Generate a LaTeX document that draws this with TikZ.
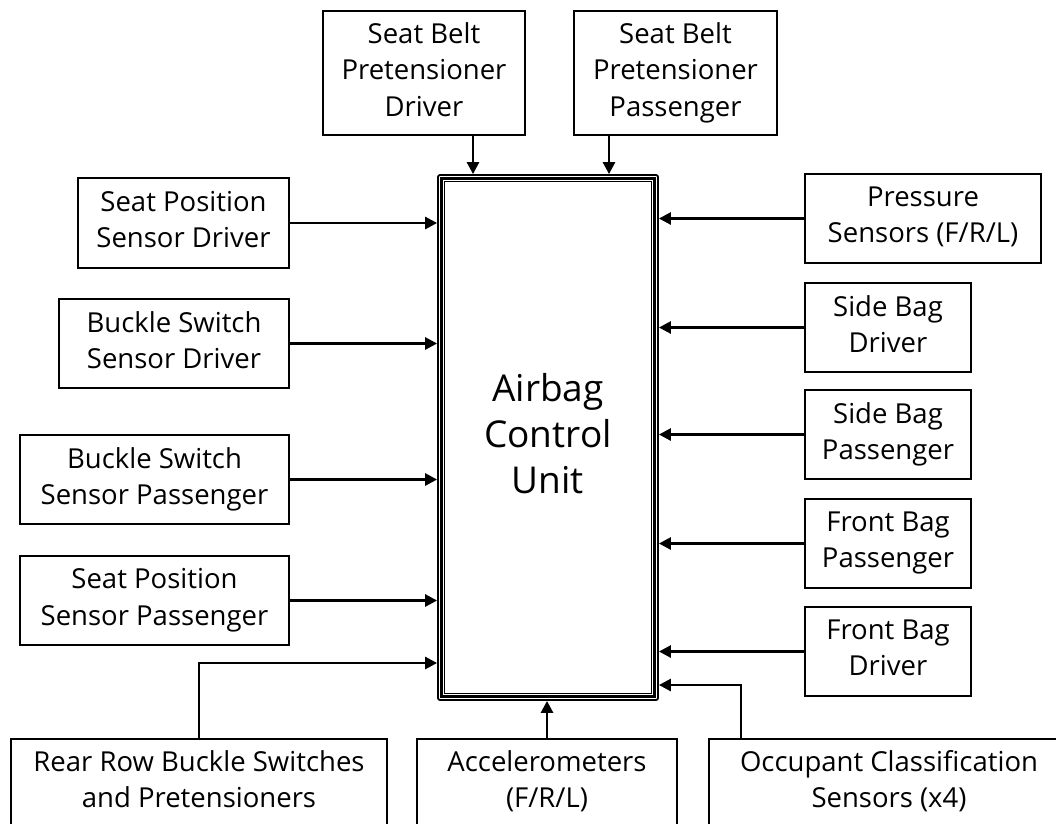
\documentclass[tikz,border=0pt]{standalone}
\usepackage{fontspec}
\setmainfont{Open Sans}
\usetikzlibrary{arrows.meta,calc}
\newcommand\sst{\rule[-7.4pt]{0pt}{39.4pt}}
\newcommand\bst{\rule[-8pt]{0pt}{44pt}}
\tikzset{
  box/.style={draw, line width=2pt, align=center, inner sep=0pt,
    font=\fontsize{27.5}{36.5}\selectfont,
    execute at begin node=\sst, execute at end node=\sst},
  arr/.style={line width=2.7pt, -{Triangle[length=12pt,width=12pt]}},
}
\begin{document}
\begin{tikzpicture}[x=1pt,y=-1pt]
\useasboundingbox (0,0) rectangle (1056,823);
% central unit
\node[draw, line width=1.8pt, rounded corners=2pt, minimum width=220pt, minimum height=525pt,
  align=center, inner sep=0pt, font=\fontsize{37}{46}\selectfont,
  execute at begin node=\bst, execute at end node=\bst] (acu) at (548,437.5) {Airbag\\Control\\Unit};
\draw[line width=2.4pt] ([shift={(4.4,4.4)}]acu.north west) rectangle ([shift={(-4.4,-4.4)}]acu.south east);
\draw[line width=1pt] ([shift={(7.8,7.8)}]acu.north west) rectangle ([shift={(-7.8,-7.8)}]acu.south east);
% top
\node[box, minimum width=202pt, minimum height=124pt] (sbpd) at (424,73) {Seat Belt\\Pretensioner\\Driver};
\node[box, minimum width=203pt, minimum height=124pt] (sbpp) at (675.5,73) {Seat Belt\\Pretensioner\\Passenger};
% left
\node[box, minimum width=211pt, minimum height=90pt] (spsd) at (183.5,223) {Seat Position\\Sensor Driver};
\node[box, minimum width=230pt, minimum height=89pt] (bssd) at (174,343.5) {Buckle Switch\\Sensor Driver};
\node[box, minimum width=269pt, minimum height=89pt] (bssp) at (154.5,479.5) {Buckle Switch\\Sensor Passenger};
\node[box, minimum width=269pt, minimum height=89pt] (spsp) at (154.5,600.5) {Seat Position\\Sensor Passenger};
% right
\node[box, minimum width=236pt, minimum height=89pt] (pres) at (923,218.5) {Pressure\\Sensors (F/R/L)};
\node[box, minimum width=166pt, minimum height=89pt] (sbd) at (888,327.5) {Side Bag\\Driver};
\node[box, minimum width=166pt, minimum height=89pt] (sbp) at (888,434.5) {Side Bag\\Passenger};
\node[box, minimum width=166pt, minimum height=89pt] (fbp) at (888,543.5) {Front Bag\\Passenger};
\node[box, minimum width=166pt, minimum height=89pt] (fbd) at (888,651.5) {Front Bag\\Driver};
% bottom
\node[box, minimum width=376pt, minimum height=87pt] (rear) at (199,782.5) {Rear Row Buckle Switches\\and Pretensioners};
\node[box, minimum width=260pt, minimum height=87pt] (acc) at (547,782.5) {Accelerometers\\(F/R/L)};
\node[box, minimum width=360pt, minimum height=87pt] (occ) at (889,782.5) {Occupant Classification\\Sensors (x4)};
% connectors
\path ([xshift=49pt]sbpd.south) coordinate (t1);
\path ([xshift=-66.5pt]sbpp.south) coordinate (t2);
\draw[arr] (t1) -- (t1 |- acu.north);
\draw[arr] (t2) -- (t2 |- acu.north);
\draw[arr] (spsd.east) -- (spsd.east -| acu.west);
\draw[arr] (bssd.east) -- (bssd.east -| acu.west);
\draw[arr] (bssp.east) -- (bssp.east -| acu.west);
\draw[arr] (spsp.east) -- (spsp.east -| acu.west);
\draw[arr] (pres.west) -- (pres.west -| acu.east);
\draw[arr] (sbd.west) -- (sbd.west -| acu.east);
\draw[arr] (sbp.west) -- (sbp.west -| acu.east);
\draw[arr] (fbp.west) -- (fbp.west -| acu.east);
\draw[arr] (fbd.west) -- (fbd.west -| acu.east);
\coordinate (r1) at (0,663);
\draw[arr] (rear.north) |- (acu.west |- r1);
\draw[arr] (acc.north) -- (acc.north |- acu.south);
\path ([xshift=-148pt]occ.north) coordinate (o1);
\coordinate (o2) at (0,685);
\draw[arr] (o1) |- (acu.east |- o2);
\end{tikzpicture}
\end{document}
